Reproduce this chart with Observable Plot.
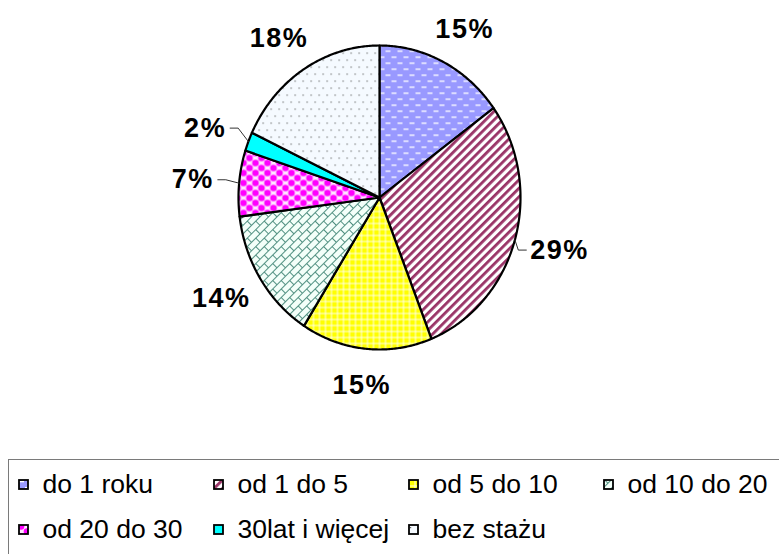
<!DOCTYPE html>
<html><head><meta charset="utf-8">
<script src="https://cdn.jsdelivr.net/npm/d3@7"></script>
<script src="https://cdn.jsdelivr.net/npm/@observablehq/plot@0.6"></script>
<style>
body{margin:0;background:#fff;font-family:"Liberation Sans",Arial,sans-serif;}
#wrap{position:relative;width:779px;height:554px;overflow:hidden;background:#fff;}
#legend{position:absolute;left:8px;top:459px;width:820px;height:130px;border:1.5px solid #7a7a7a;box-sizing:border-box;
  padding:2px 0 0 8.5px;display:grid;grid-template-columns:repeat(4,195px);grid-auto-rows:45px;align-items:center;}
.item{display:flex;align-items:center;font-size:26.5px;color:#000;white-space:nowrap;}
.item svg{margin-right:14px;flex:none;}
</style>
</head><body>
<div id="wrap"><div id="chart"></div><div id="legend"></div></div>
<script>
const categories = ["do 1 roku","od 1 do 5","od 5 do 10","od 10 do 20","od 20 do 30","30lat i więcej","bez stażu"];
const values = [15,29,15,14,7,2,18];
const labels = ["15%","29%","15%","14%","7%","2%","18%"];
const leaderCategories = ["od 1 do 5","od 20 do 30","30lat i więcej"];

const patternDefs = `
<pattern id="p0" width="12" height="12" patternUnits="userSpaceOnUse">
 <rect width="12" height="12" fill="#9999FF"/>
 <rect x="1" y="2" width="5" height="1.3" fill="#fff"/><rect x="7" y="8" width="5" height="1.3" fill="#fff"/>
</pattern>
<pattern id="p1" width="6" height="10" patternUnits="userSpaceOnUse" patternTransform="rotate(45)">
 <rect width="6" height="10" fill="#fff"/><rect width="2.8" height="10" fill="#993366"/>
</pattern>
<pattern id="p2" width="6" height="6" patternUnits="userSpaceOnUse">
 <rect width="6" height="6" fill="#FFFF00"/>
 <rect width="6" height="2" fill="#fff" opacity="0.45"/><rect width="2" height="6" fill="#fff" opacity="0.45"/>
</pattern>
<pattern id="p3" width="12" height="12" patternUnits="userSpaceOnUse" patternTransform="rotate(-45)">
 <rect width="12" height="12" fill="#F3FFF9"/>
 <path d="M0,0.5H12M0,6.5H12M0.5,0V6M6.5,6V12" stroke="#4F8F80" stroke-width="1" fill="none"/>
</pattern>
<pattern id="p4" width="12" height="10" patternUnits="userSpaceOnUse">
 <rect width="12" height="10" fill="#FFE6FF"/>
 <circle cx="3" cy="2.5" r="3.3" fill="#FF00FF"/><circle cx="9" cy="7.5" r="3.3" fill="#FF00FF"/>
 <circle cx="15" cy="2.5" r="3.3" fill="#FF00FF"/><circle cx="3" cy="12.5" r="3.3" fill="#FF00FF"/>
 <circle cx="-3" cy="7.5" r="3.3" fill="#FF00FF"/><circle cx="9" cy="-2.5" r="3.3" fill="#FF00FF"/>
</pattern>
<pattern id="p5" width="4" height="4" patternUnits="userSpaceOnUse">
 <rect width="4" height="4" fill="#00FFFF"/>
</pattern>
<pattern id="p6" width="8" height="14" patternUnits="userSpaceOnUse">
 <rect width="8" height="14" fill="#F5FAFF"/>
 <rect x="2" y="3" width="1.2" height="1.2" fill="#666"/><rect x="6" y="10" width="1.2" height="1.2" fill="#666"/>
</pattern>`;

const arcs = d3.pie().sort(null).value(d => d)(values);

// slice polygons in unit ellipse coordinates (y up)
const slices = arcs.map((a, i) => {
  const pts = [{x: 0, y: 0}];
  const n = Math.max(2, Math.ceil((a.endAngle - a.startAngle) / 0.01));
  for (let k = 0; k <= n; k++) {
    const t = a.startAngle + (a.endAngle - a.startAngle) * k / n;
    pts.push({x: Math.sin(t), y: Math.cos(t)});
  }
  return pts;
});

const RX = 141, FS = 27, LS = 1.5;
const labelData = arcs.map((a, i) => {
  const m = (a.startAngle + a.endAngle) / 2;
  return {i, m, text: labels[i], x: 1.33 * Math.sin(m), y: 1.24 * Math.cos(m)};
});

const leaderPts = [];
labelData.forEach(d => {
  if (!leaderCategories.includes(categories[d.i])) return;
  const s = Math.sin(d.m) >= 0 ? 1 : -1;
  const txt = d.text;
  const w = ((txt.length - 1) * 0.556 + 0.889) * FS + LS * txt.length;
  const near = d.x - s * (w / 2) / RX;
  const p2x = near - s * 4 / RX, p1x = p2x - s * 8 / RX;
  leaderPts.push({i: d.i, x: Math.sin(d.m), y: Math.cos(d.m)});
  leaderPts.push({i: d.i, x: p1x, y: d.y});
  leaderPts.push({i: d.i, x: p2x, y: d.y});
});

const svg = Plot.plot({
  width: 779, height: 450, margin: 0,
  x: {domain: [-1, 1], range: [238, 520], axis: null},
  y: {domain: [-1, 1], range: [349, 45], axis: null},
  style: {background: "transparent", fontFamily: "'Liberation Sans', Arial, sans-serif"},
  marks: [
    ...slices.map((pts, i) => Plot.line(pts, {x: "x", y: "y", fill: `url(#p${i})`, stroke: "#000", strokeWidth: 2.2, curve: "linear-closed", strokeLinejoin: "round"})),
    Plot.line(leaderPts, {x: "x", y: "y", z: "i", stroke: "#333", strokeWidth: 1}),
    Plot.text(labelData, {x: "x", y: "y", text: "text", fontSize: FS, fontWeight: "bold", fill: "#000"})
  ]
});
d3.select(svg).insert("defs", ":first-child").html(patternDefs);
d3.select(svg).selectAll("text").style("letter-spacing", LS + "px");
document.getElementById("chart").appendChild(svg);

const legend = d3.select("#legend");
categories.forEach((c, i) => {
  const it = legend.append("div").attr("class", "item");
  it.append("svg").attr("width", 11).attr("height", 11)
    .append("rect").attr("x", 1).attr("y", 1).attr("width", 9).attr("height", 9)
    .attr("fill", `url(#p${i})`).attr("stroke", "#000").attr("stroke-width", 1.8);
  it.append("span").text(c);
});
</script>
</body></html>
